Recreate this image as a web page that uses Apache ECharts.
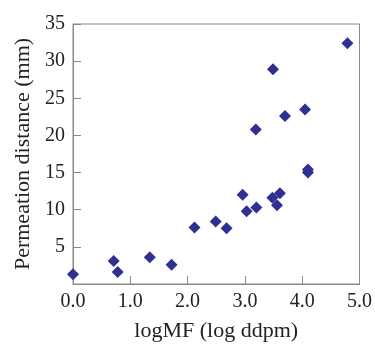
<!DOCTYPE html>
<html>
<head>
<meta charset="utf-8">
<script src="https://cdn.jsdelivr.net/npm/echarts@6/dist/echarts.min.js"></script>
<style>html,body{margin:0;padding:0;background:#fff;}#c{width:375px;height:347px;}</style>
</head>
<body>
<div id="c"></div>
<script>
const logMF = [0.0, 0.71, 0.78, 1.34, 1.72, 2.12, 2.49, 2.68, 2.96, 3.03, 3.2, 3.19, 3.49, 3.48, 3.56, 3.61, 3.7, 4.05, 4.1, 4.1, 4.79];
const permeation = [1.3, 3.1, 1.6, 3.6, 2.6, 7.6, 8.4, 7.5, 12.0, 9.8, 10.3, 20.8, 28.9, 11.6, 10.6, 12.2, 22.6, 23.5, 15.0, 15.4, 32.4];
const xTicks = [0, 1, 2, 3, 4, 5];
const yTicks = [0, 5, 10, 15, 20, 25, 30, 35];

const points = logMF.map((x, i) => [x, permeation[i]]);
const chart = echarts.init(document.getElementById('c'), null, {renderer: 'canvas'});
const axisColor = '#8a8a8a';
const font = '"Liberation Serif", "Times New Roman", serif';
chart.setOption({
  animation: false,
  grid: {left: 73, right: 14, top: 24, bottom: 58, show: true, borderColor: axisColor, borderWidth: 1},
  xAxis: {
    type: 'value', min: xTicks[0], max: xTicks[xTicks.length - 1], interval: 1,
    name: 'logMF (log ddpm)', nameLocation: 'middle', nameGap: 36,
    nameTextStyle: {fontFamily: font, fontSize: 22, color: '#222'},
    axisLine: {lineStyle: {color: axisColor}},
    axisTick: {inside: true, length: 8, lineStyle: {color: axisColor}},
    axisLabel: {fontFamily: font, fontSize: 20, color: '#222', margin: 8, formatter: v => v.toFixed(1)},
    splitLine: {show: false}
  },
  yAxis: {
    type: 'value', min: yTicks[0], max: yTicks[yTicks.length - 1], interval: 5,
    name: 'Permeation distance (mm)', nameLocation: 'middle', nameGap: 39,
    nameTextStyle: {fontFamily: font, fontSize: 22, color: '#222'},
    axisLine: {show: true, lineStyle: {color: axisColor}},
    axisTick: {show: true, inside: true, length: 8, lineStyle: {color: axisColor}},
    axisLabel: {fontFamily: font, fontSize: 20, color: '#222', margin: 8, formatter: v => v === 0 ? '' : String(v)},
    splitLine: {show: false}
  },
  series: [{
    type: 'scatter',
    data: points,
    symbol: 'diamond',
    symbolSize: 12,
    itemStyle: {color: '#2E3192', opacity: 1}
  }]
});
</script>
</body>
</html>
